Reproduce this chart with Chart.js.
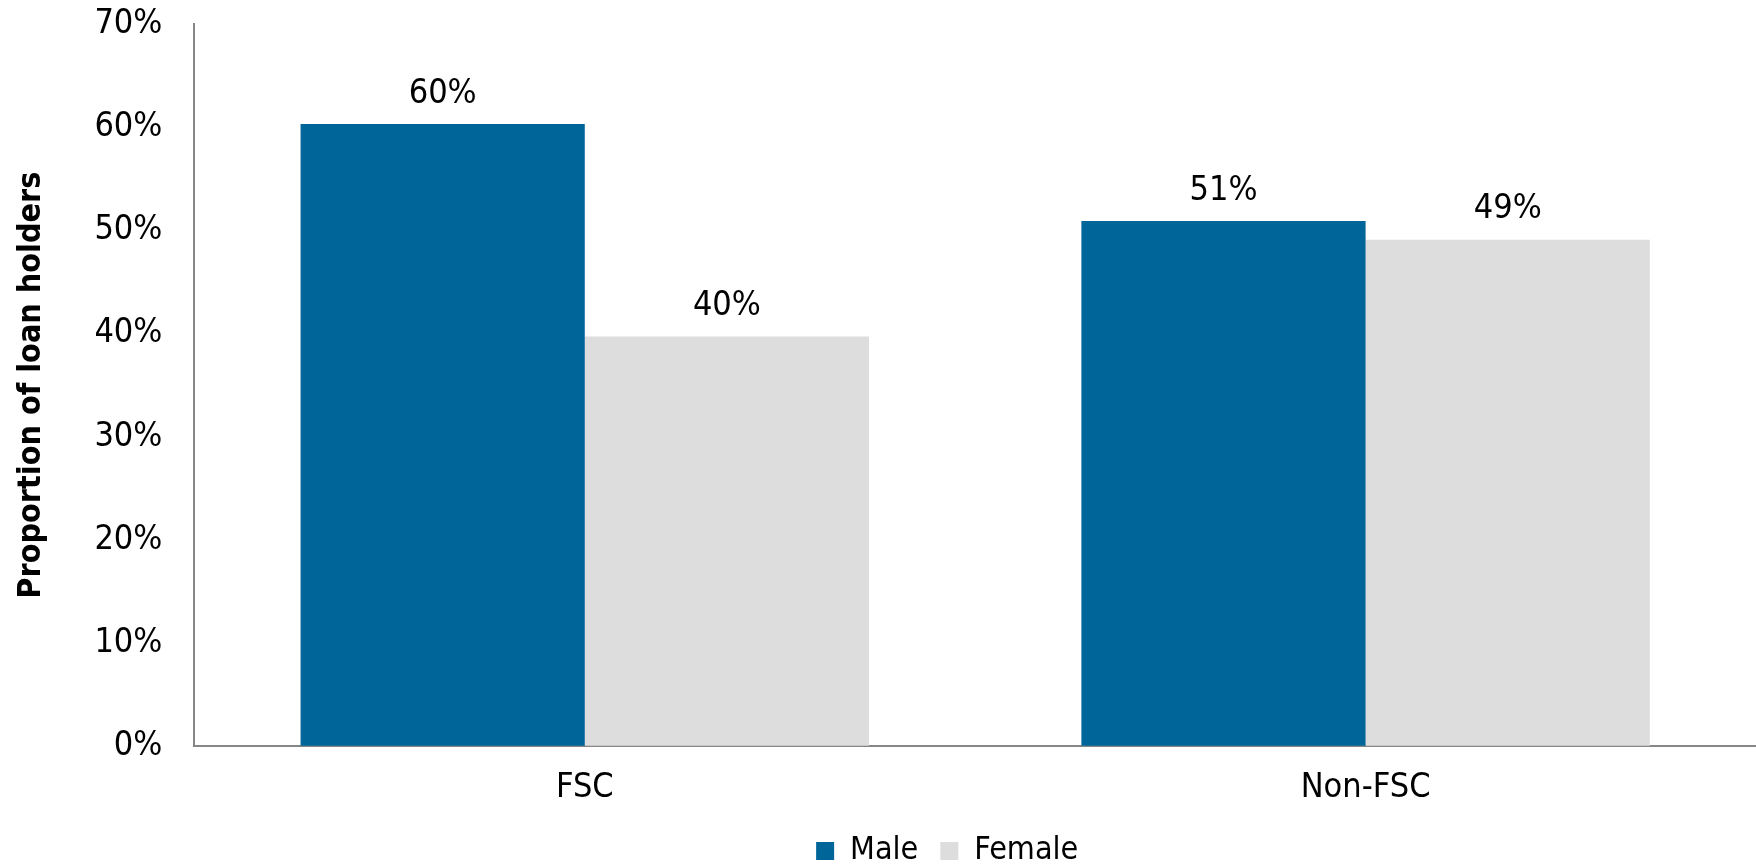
<!DOCTYPE html>
<html>
<head>
<meta charset="utf-8">
<script src="https://cdn.jsdelivr.net/npm/chart.js@4"></script>
<style>
  html, body { margin: 0; padding: 0; background: #fff; }
  #wrap { width: 1756px; height: 864px; }
</style>
</head>
<body>
<div id="wrap"><canvas id="myChart"></canvas></div>
<script>
// Dados do gráfico
const categories = ['FSC', 'Non-FSC'];
const maleValues = [60.3, 50.9];
const femaleValues = [39.7, 49.1];
const maleLabels = ['60%', '51%'];
const femaleLabels = ['40%', '49%'];
const yTicks = [0, 10, 20, 30, 40, 50, 60, 70];

const FONT = "'DejaVu Sans Condensed', 'DejaVu Sans', Tahoma, sans-serif";

// Plugin simples para os rótulos acima das barras
const barLabels = {
    id: 'barLabels',
    afterLayout(chart) {
        // desloca a legenda um pouco para a esquerda
        chart.legend.left -= 28;
        chart.legend.right -= 28;
    },
    afterDatasetsDraw(chart) {
        const ctx = chart.ctx;
        ctx.save();
        ctx.font = '34px ' + FONT;
        ctx.fillStyle = '#000';
        ctx.textAlign = 'center';
        ctx.textBaseline = 'middle';
        chart.data.datasets.forEach((ds, i) => {
            chart.getDatasetMeta(i).data.forEach((bar, j) => {
                ctx.fillText(ds.labelsText[j], bar.x, bar.y - 30);
            });
        });
        ctx.restore();
    }
};

const ctx = document.getElementById('myChart').getContext('2d');
new Chart(ctx, {
    type: 'bar',
    data: {
        labels: categories,
        datasets: [
            {
                label: 'Male',
                data: maleValues,
                labelsText: maleLabels,
                backgroundColor: '#006699',
                categoryPercentage: 0.728,
                barPercentage: 1.0
            },
            {
                label: 'Female',
                data: femaleValues,
                labelsText: femaleLabels,
                backgroundColor: '#dddddd',
                categoryPercentage: 0.728,
                barPercentage: 1.0
            }
        ]
    },
    options: {
        responsive: true,
        maintainAspectRatio: false,
        animation: false,
        layout: { padding: { top: 24, right: -10, left: 0, bottom: -13 } },
        scales: {
            y: {
                min: 0,
                max: 70,
                afterBuildTicks: axis => { axis.ticks = yTicks.map(v => ({ value: v })); },
                grid: {
                    display: true,
                    drawOnChartArea: false,
                    drawTicks: true,
                    tickLength: 32,
                    tickColor: 'rgba(0,0,0,0)'
                },
                border: { display: true, color: '#868686', width: 2 },
                ticks: {
                    color: '#000',
                    padding: 0,
                    font: { family: FONT, size: 34 },
                    callback: v => v + '%'
                },
                title: {
                    display: true,
                    text: 'Proportion of loan holders',
                    color: '#000',
                    padding: { top: 12, bottom: 44 },
                    font: { family: FONT, size: 32, weight: 'bold' }
                }
            },
            x: {
                grid: { display: false, drawTicks: false },
                border: { display: true, color: '#868686', width: 2 },
                afterFit: scale => { scale.height -= 18; },
                ticks: {
                    color: '#000',
                    padding: 22,
                    font: { family: FONT, size: 34 }
                }
            }
        },
        plugins: {
            legend: {
                position: 'bottom',
                fullSize: false,
                labels: {
                    color: '#000',
                    boxWidth: 18,
                    boxHeight: 18,
                    padding: 22,
                    font: { family: FONT, size: 32 }
                }
            },
            tooltip: { enabled: false }
        }
    },
    plugins: [barLabels]
});
</script>
</body>
</html>
